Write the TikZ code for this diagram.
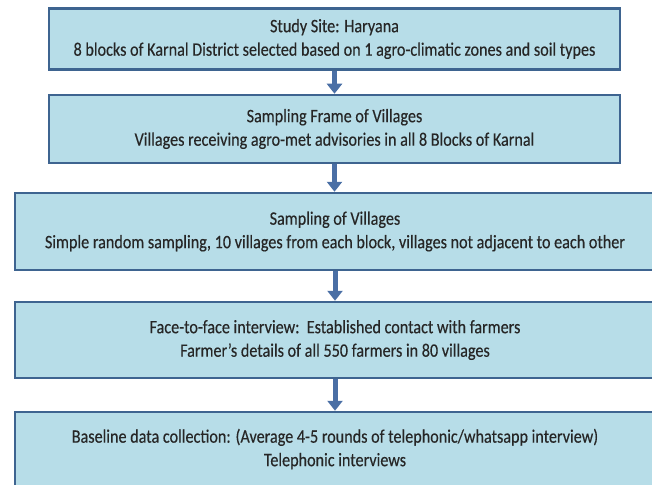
\documentclass[tikz,border=0pt]{standalone}
\usepackage{fontspec}
\setmainfont[FakeStretch=0.85, FakeBold=0.3]{Carlito}
\usetikzlibrary{positioning, arrows.meta}
\definecolor{boxfill}{HTML}{B7DDE8}
\definecolor{boxline}{HTML}{3E6490}
\definecolor{arrowblue}{HTML}{4A6FA5}
\definecolor{textgrey}{HTML}{262626}

\begin{document}
\begin{tikzpicture}[x=1pt, y=-1pt, % 1 unit = 1 pixel, y runs downward
  stagebox/.style={draw=boxline, line width=2.5pt, fill=boxfill, align=center,
    inner sep=0pt, text=textgrey, font=\fontsize{19}{23.5}\selectfont},
  flow/.style={-{Triangle[width=15pt,length=10pt]}, line width=5pt, arrowblue}]

\useasboundingbox (0,0) rectangle (652,484);
\clip (0,0) rectangle (652,484);

\node[stagebox, minimum width=571pt, minimum height=61pt] (site) at (334.5,39)
  {Study Site: Haryana\\8 blocks of Karnal District selected based on 1 agro-climatic zones and soil types};
\node[stagebox, minimum width=571pt, minimum height=68pt] (frame) at (334.5,129)
  {Sampling Frame of Villages\\Villages receiving agro-met advisories in all 8 Blocks of Karnal};
\node[stagebox, minimum width=640pt, minimum height=77pt] (villages) at (335,231.5)
  {Sampling of Villages\\Simple random sampling, 10 villages from each block, villages not adjacent to each other};
\node[stagebox, minimum width=640pt, minimum height=76pt] (interview) at (335,340)
  {Face-to-face interview:\ \ Established contact with farmers\\Farmer’s details of all 550 farmers in 80 villages};
\node[stagebox, minimum width=640pt, minimum height=74pt] (baseline) at (335,449)
  {Baseline data collection: (Average 4-5 rounds of telephonic/whatsapp interview)\\Telephonic interviews};

\draw[flow] (site.south) -- (site.south |- frame.north);
\draw[flow] (frame.south) -- (frame.south |- villages.north);
\draw[flow] (villages.south) -- (villages.south |- interview.north);
\draw[flow] (interview.south) -- (interview.south |- baseline.north);

\end{tikzpicture}
\end{document}
